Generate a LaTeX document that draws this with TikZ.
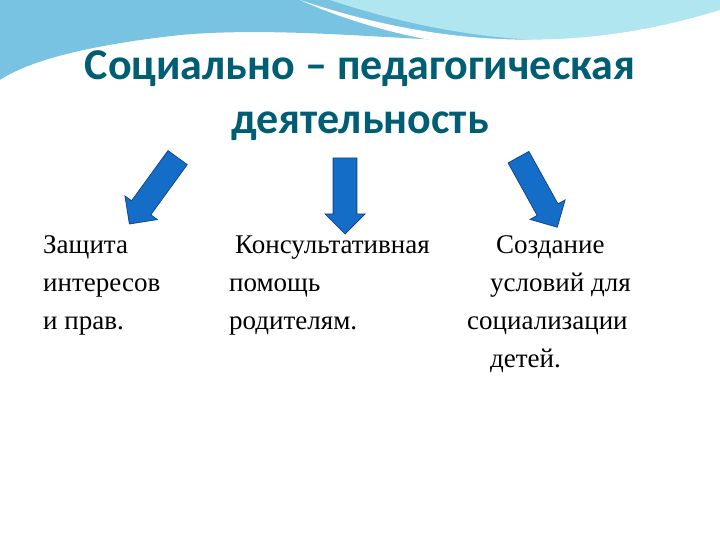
\documentclass[tikz,border=0pt]{standalone}
\usepackage{fontspec}
\setmainfont{Liberation Serif}
\newfontfamily\titlefont{Carlito}
\usetikzlibrary{positioning,shapes.arrows}
\definecolor{titleblue}{RGB}{0,94,116}
\definecolor{arrowblue}{RGB}{20,110,200}
\definecolor{arrowline}{RGB}{20,70,140}
\definecolor{wavedark}{RGB}{120,195,225}
\definecolor{wavelight}{RGB}{175,230,240}
\tikzset{
  blockarrow/.style={single arrow, fill=arrowblue, draw=arrowline, line width=0.8pt,
    minimum width=40pt, single arrow head indent=0pt,
    inner xsep=0pt, inner ysep=10pt, minimum height=#1},
  bodytext/.style={anchor=base west, font=\fontsize{27}{30}\selectfont, inner sep=0pt}
}
\begin{document}
\begin{tikzpicture}[x=1pt,y=-1pt]
   \useasboundingbox (0,0) rectangle (720,540);
   \fill[white] (0,0) rectangle (720,540);

   % top waves
   \fill[wavedark] (0,0) -- (720,0) -- (720,20) .. controls (560,70) and (350,20) .. (180,35)
      .. controls (90,45) and (30,60) .. (0,80) -- cycle;
   \fill[wavelight] (330,0) -- (720,0) -- (720,15) .. controls (600,60) and (450,40) .. (330,0) -- cycle;
   \fill[white] (300,0) .. controls (420,40) and (560,60) .. (720,10) -- (720,22)
      .. controls (560,75) and (400,45) .. (300,0) -- cycle;
   \fill[white] (0,80) .. controls (80,50) and (200,35) .. (330,40)
      .. controls (200,45) and (80,60) .. (0,85) -- cycle;

   % title
   \node[font=\titlefont\bfseries\fontsize{44}{54}\selectfont, text=titleblue, align=center]
      (title) at (360,96) {Социально – педагогическая\\деятельность};

   % arrows
   \node[blockarrow=82pt, rotate=234] (arrL) at (157,186) {};
   \node[blockarrow=76pt, rotate=270] (arrM) at (345,190) {};
   \node[blockarrow=80pt, rotate=-61] (arrR) at (535,187) {};

   % left column
   \node[bodytext] (l1) at (43,253) {Защита};
   \node[bodytext] (l2) at (43,291) {интересов};
   \node[bodytext] (l3) at (43,329) {и прав.};

   % middle column
   \node[bodytext] (m1) at (235,253) {Консультативная};
   \node[bodytext] (m2) at (229,291) {помощь};
   \node[bodytext] (m3) at (229,329) {родителям.};

   % right column
   \node[bodytext] (r1) at (496,253) {Создание};
   \node[bodytext] (r2) at (490,291) {условий для};
   \node[bodytext] (r3) at (467,329) {социализации};
   \node[bodytext] (r4) at (490,367) {детей.};
\end{tikzpicture}
\end{document}
